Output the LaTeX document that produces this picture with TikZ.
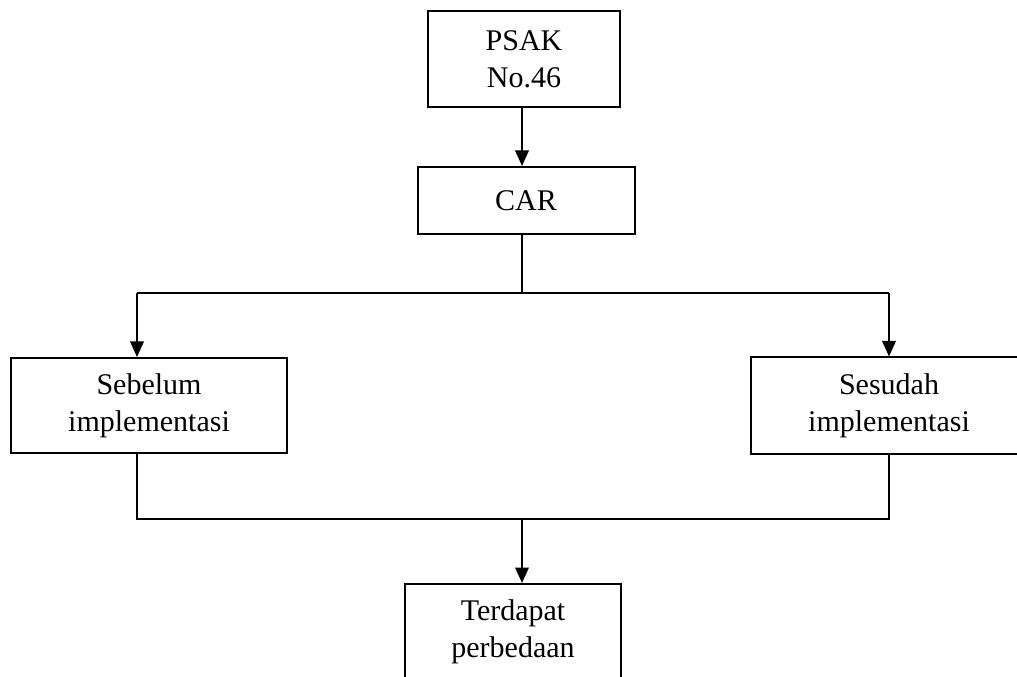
\documentclass[tikz,border=0pt]{standalone}
\usepackage{fontspec}
\setmainfont{Liberation Serif}
\usetikzlibrary{arrows.meta}

\begin{document}
\begin{tikzpicture}[x=0.4pt, y=-0.4pt,
    flowbox/.style={draw, line width=0.8pt, align=center, inner sep=0pt, font=\fontsize{12}{14.8}\selectfont},
    link/.style={line width=0.8pt},
    flow/.style={link, -{Triangle[length=6.2pt, width=5.4pt]}}]
    \useasboundingbox (0,0) rectangle (1017,677);
    \clip (0,0) rectangle (1017,677);
    % boxes
    \node[flowbox, minimum width=76.8pt, minimum height=38.4pt] (psak) at (524,59) {PSAK\\No.46};
    \node[flowbox, minimum width=86.8pt, minimum height=26.8pt] (car) at (526,200.5) {CAR};
    \node[flowbox, minimum width=110.4pt, minimum height=38pt] (sebelum) at (149,405.5) {Sebelum\\implementasi};
    \node[flowbox, minimum width=110.4pt, minimum height=38.4pt] (sesudah) at (889,405.5) {Sesudah\\implementasi};
    \node[flowbox, minimum width=86.4pt, minimum height=38pt] (terdapat) at (513,631.5) {Terdapat\\perbedaan};
    % branch points
    \coordinate (mid) at (522,293);
    \coordinate (splitL) at (137,293);
    \coordinate (splitR) at (889,293);
    \coordinate (joinL) at (137,519);
    \coordinate (joinR) at (889,519);
    \coordinate (join) at (522,519);
    % connectors
    \draw[flow] (psak.south -| mid) -- (car.north -| mid);
    \draw[link] (car.south -| mid) -- (mid);
    \draw[flow] (splitL) -- (splitL |- sebelum.north);
    \draw[flow] (splitR) -- (splitR |- sesudah.north);
    \draw[link] (splitL) -- (splitR);
    \draw[link] (sebelum.south -| joinL) -- (joinL) -- (joinR) -- (sesudah.south -| joinR);
    \draw[flow] (join) -- (join |- terdapat.north);
\end{tikzpicture}
\end{document}
